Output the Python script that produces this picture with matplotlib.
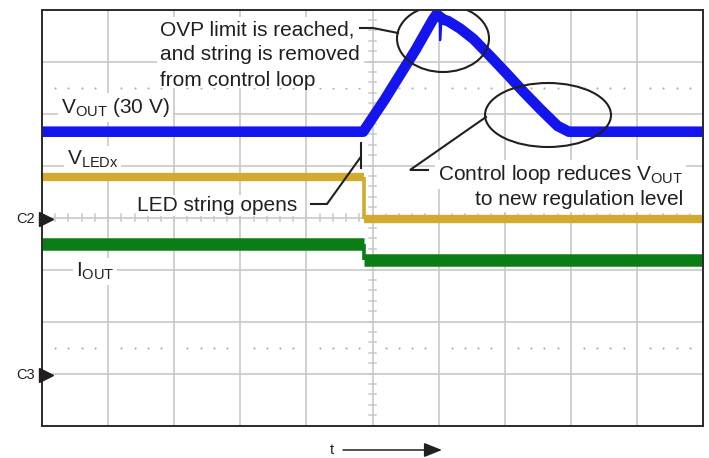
import matplotlib
matplotlib.use('Agg')
import matplotlib.pyplot as plt
from matplotlib.patches import Ellipse, Rectangle
import numpy as np

plt.rcParams['font.family'] = ['Liberation Sans', 'DejaVu Sans']
plt.rcParams['mathtext.fontset'] = 'custom'
plt.rcParams['mathtext.rm'] = 'Liberation Sans'
plt.rcParams['mathtext.it'] = 'Liberation Sans:italic'
plt.rcParams['mathtext.bf'] = 'Liberation Sans:bold'

# ---- data, in scope divisions (x: 0..10, y: -4..4) ----
vout_t = [0.0, 4.86, 5.18, 5.65, 5.91, 5.97, 6.08, 6.14, 6.33, 6.53, 6.79,
          7.05, 7.29, 7.55, 7.80, 7.97, 10.0]
vout_v = [1.65, 1.65, 2.26, 3.22, 3.80, 3.91, 3.80, 3.78, 3.63, 3.43, 3.09,
          2.74, 2.41, 2.07, 1.76, 1.65, 1.65]
vout_spike_t = [5.97, 6.015, 6.023, 6.045, 6.08]
vout_spike_v = [3.91, 4.01, 3.41, 3.84, 3.80]

vledx_t = [0.0, 4.87, 4.87, 10.0]
vledx_v = [0.77, 0.77, -0.03, -0.03]

iout_t = [0.0, 4.875, 4.875, 10.0]
iout_v = [-0.51, -0.51, -0.81, -0.81]

channel_labels = ['C2', 'C3']
channel_levels = [-0.03, -3.03]

W, H = 709, 458
fig = plt.figure(figsize=(W / 100, H / 100), dpi=100)
L, R, T, B = 42, 703, 9.5, 425.5
ax = fig.add_axes([L / W, 1 - B / H, (R - L) / W, (B - T) / H])
ax.set_xlim(0, 10)
ax.set_ylim(-4, 4)
ax.set_xticks([])
ax.set_yticks([])
for s in ax.spines.values():
    s.set_linewidth(1.4)
    s.set_color('#2a2a2a')
    s.set_zorder(6)


def P(px, py):
    return ((px - L) / 66.1, (217.5 - py) / 52.0)


TXT = '#231f20'
GRID = '#c8c8c8'

# grid
for x in range(1, 10):
    ax.axvline(x, color=GRID, lw=1.2, zorder=1)
for y in range(-3, 4):
    ax.axhline(y, color=GRID, lw=1.2, zorder=1)
# minor ticks on center lines
for k in range(1, 50):
    xt = k * 0.2
    ax.plot([xt, xt], [-0.065, 0.065], color=GRID, lw=1.1, zorder=1)
for k in range(-19, 20):
    yt = k * 0.2
    ax.plot([4.95, 5.05], [yt, yt], color=GRID, lw=1.1, zorder=1)
# dotted lines
dots = [k * 0.2 for k in range(1, 50) if k % 5 != 0]
for yd in (2.5, -2.5):
    ax.plot(dots, [yd] * len(dots), ls='none', marker='o', ms=1.6,
            color='#b4b4b4', mec='none', zorder=1)


def draw_trace(t, v, color, lw, edge_lw):
    start = 0
    for i in range(len(t) - 1):
        if t[i] == t[i + 1]:
            ax.plot(t[start:i + 1], v[start:i + 1], color=color, lw=lw,
                    solid_capstyle='butt', solid_joinstyle='round', zorder=3)
            ax.plot(t[i:i + 2], v[i:i + 2], color=color, lw=edge_lw,
                    solid_capstyle='butt', zorder=3)
            start = i + 1
    ax.plot(t[start:], v[start:], color=color, lw=lw,
            solid_capstyle='butt', solid_joinstyle='round', zorder=3)


BLUE = '#1414ee'
YEL = '#d4aa2e'
GRN = '#0a7d14'
draw_trace(iout_t, iout_v, GRN, 9.0, 2.6)
draw_trace(vledx_t, vledx_v, YEL, 6.0, 2.6)
draw_trace(vout_t, vout_v, BLUE, 7.6, 2.6)
ax.plot(vout_spike_t, vout_spike_v, color=BLUE, lw=1.6, zorder=3)

# white box behind the OVP text block
x0, y0 = P(157, 88)
x1, y1 = P(364, 17)
ax.add_patch(Rectangle((x0, y0), x1 - x0, y1 - y0, facecolor='white',
                       edgecolor='none', zorder=2))

FS = 15
wb = dict(facecolor='white', edgecolor='none', pad=2)
for txt, py in [('OVP limit is reached,', 35.5), ('and string is removed', 60),
                ('from control loop', 85.5)]:
    ax.text(*P(160, py), txt, fontsize=FS, color=TXT, ha='left', va='baseline', zorder=4)

ax.text(*P(61, 113), r'V$_{\mathregular{OUT}}$ (30 V)', fontsize=FS, color=TXT,
        ha='left', va='baseline', bbox=wb, zorder=4)
ax.text(*P(67, 165), r'V$_{\mathregular{LEDx}}$', fontsize=FS, color=TXT,
        ha='left', va='baseline', bbox=wb, zorder=2.5)
ax.text(*P(137, 211), 'LED string opens', fontsize=FS, color=TXT,
        ha='left', va='baseline', bbox=dict(facecolor='white', edgecolor='none', pad=0.5), zorder=2.5)
ax.text(*P(76, 277), r'I$_{\mathregular{OUT}}$', fontsize=FS, color=TXT,
        ha='left', va='baseline', bbox=wb, zorder=2.5)
ax.text(*P(683, 180), r'Control loop reduces V$_{\mathregular{OUT}}$', fontsize=FS,
        color=TXT, ha='right', va='baseline', bbox=wb, zorder=4)
ax.text(*P(683, 205), 'to new regulation level', fontsize=FS, color=TXT,
        ha='right', va='baseline', bbox=wb, zorder=4)

# leader lines
def poly(pts, lw=1.5):
    xs, ys = zip(*[P(*p) for p in pts])
    ax.plot(xs, ys, color=TXT, lw=lw, zorder=5, clip_on=False,
            solid_joinstyle='miter')

poly([(360, 28), (373, 28), (398, 33)])
poly([(311, 204), (327, 204), (360, 158)])
poly([(361, 143), (361, 168)])
poly([(428, 170), (410, 170), (486, 117)])

for (cx, cy, w, h) in [(443, 38.5, 92, 67), (548, 115, 126, 64)]:
    ax.add_patch(Ellipse(P(cx, cy), w / 66.1, h / 52.0, fill=False,
                         edgecolor=TXT, lw=1.5, zorder=5))

# channel markers
for lab, lev in zip(channel_labels, channel_levels):
    ax.plot([0.06], [lev], marker='>', ms=10, color='#231f20', clip_on=False, zorder=7)
    ax.text(P(35, 0)[0], lev, lab, fontsize=10.5, color=TXT, ha='right',
            va='center', clip_on=False)

# time arrow
ax.text(*P(332, 450), 't', fontsize=10.5, color=TXT, ha='center', va='center',
        clip_on=False)
ax.annotate('', xy=P(442, 450), xytext=P(343, 450), xycoords='data',
            arrowprops=dict(arrowstyle='-|>,head_length=0.55,head_width=0.22',
                            mutation_scale=20, lw=1.1, color=TXT,
                            shrinkA=0, shrinkB=0), annotation_clip=False)

fig.savefig('out.png', dpi=100, facecolor='white')
